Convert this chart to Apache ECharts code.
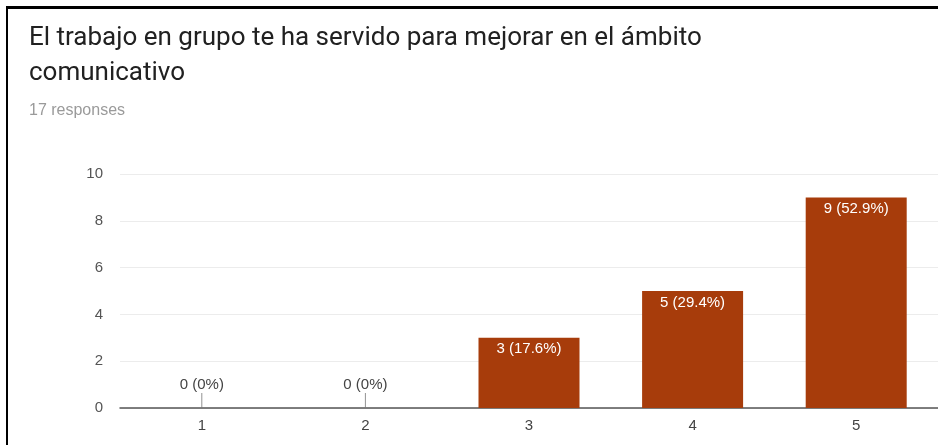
<!DOCTYPE html>
<html lang="es" style="height: 100%">
<head>
  <meta charset="utf-8">
</head>
<body style="height: 100%; margin: 0">
  <div id="container" style="width: 938px; height: 445px"></div>

  <script type="text/javascript" src="https://cdn.jsdelivr.net/npm/echarts@6/dist/echarts.min.js"></script>
  <script type="text/javascript">
    var categories = ['1', '2', '3', '4', '5'];
    var counts = [0, 0, 3, 5, 9];
    var percents = ['0%', '0%', '17.6%', '29.4%', '52.9%'];
    var yTicks = [0, 2, 4, 6, 8, 10];

    var dom = document.getElementById('container');
    var myChart = echarts.init(dom, null, { renderer: 'canvas' });

    var option = {
      backgroundColor: '#fff',
      animation: false,
      textStyle: { fontFamily: '"Liberation Sans", Arial, sans-serif' },
      title: {
        text: 'El trabajo en grupo te ha servido para mejorar en el ámbito\ncomunicativo',
        subtext: '17 responses',
        left: 24,
        top: 16,
        itemGap: 11,
        textStyle: { fontFamily: 'Roboto', fontSize: 26, fontWeight: 'normal', color: '#212121', lineHeight: 35 },
        subtextStyle: { fontSize: 16, color: '#9a9a9a', lineHeight: 18 }
      },
      graphic: [
        { type: 'rect', shape: { x: 6, y: 6, width: 932, height: 3 }, style: { fill: '#000' } },
        { type: 'rect', shape: { x: 6, y: 6, width: 2, height: 439 }, style: { fill: '#000' } }
      ],
      grid: { left: 120, right: 0, top: 174, bottom: 37 },
      xAxis: {
        type: 'category',
        data: categories,
        axisLine: { lineStyle: { color: '#555', width: 1.5 } },
        axisTick: { show: false },
        axisLabel: { color: '#444', fontSize: 15, margin: 10 }
      },
      yAxis: {
        type: 'value',
        min: yTicks[0],
        max: yTicks[yTicks.length - 1],
        interval: 2,
        axisLine: { show: false },
        axisTick: { show: false },
        axisLabel: { color: '#555', fontSize: 15, margin: 17 },
        splitLine: { lineStyle: { color: '#ececec' } }
      },
      series: [
        {
          type: 'bar',
          data: counts.map(function (v) {
            return {
              value: v,
              label: v === 0
                ? { position: 'top', distance: 16, color: '#444' }
                : { position: 'insideTop', distance: 4, color: '#fff' }
            };
          }),
          barWidth: 101,
          itemStyle: { color: '#a73c0b' },
          label: {
            show: true,
            fontSize: 15,
            formatter: function (p) { return counts[p.dataIndex] + ' (' + percents[p.dataIndex] + ')'; }
          },
          z: 2
        },
        {
          // little stems under the "0 (0%)" labels
          type: 'scatter',
          data: counts.map(function (v) { return v === 0 ? 0 : '-'; }),
          symbol: 'rect',
          symbolSize: [1, 15],
          symbolOffset: [0, '-50%'],
          silent: true,
          itemStyle: { color: '#777' },
          z: 1
        }
      ]
    };

    myChart.setOption(option);
    window.addEventListener('resize', myChart.resize);
  </script>
</body>
</html>
